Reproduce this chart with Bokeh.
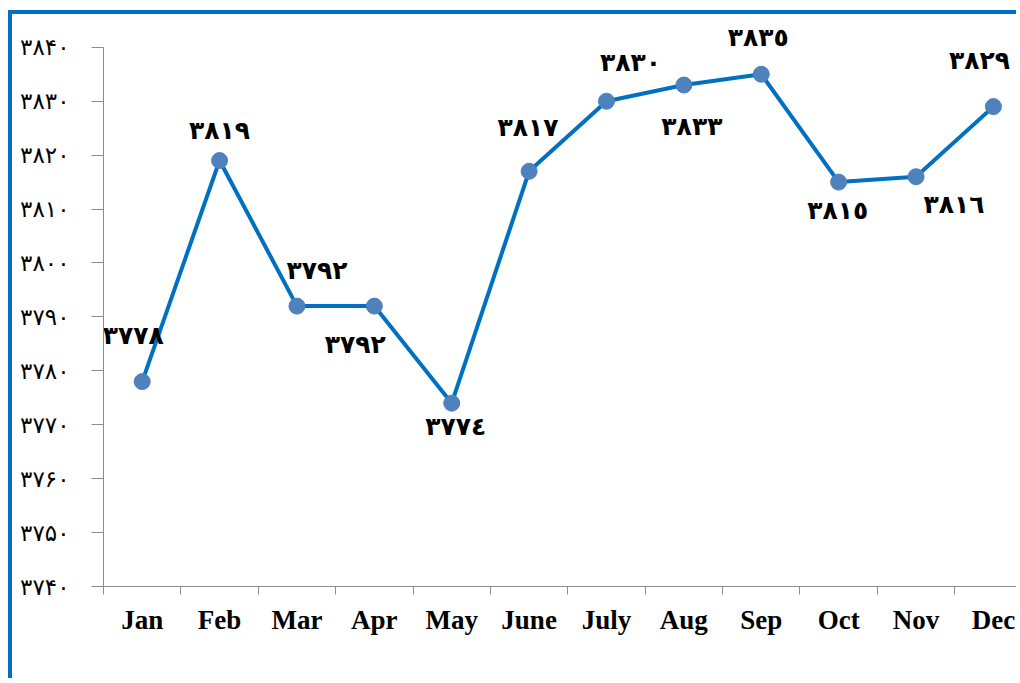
from bokeh.plotting import figure
from bokeh.models import ColumnDataSource, Range1d, FixedTicker, LinearAxis
from bokeh.core.properties import value
from bokeh.embed import file_html
from bokeh.resources import INLINE

# ---- data ----
months = ["Jan", "Feb", "Mar", "Apr", "May", "June", "July", "Aug", "Sep", "Oct", "Nov", "Dec"]
values = [3778, 3819, 3792, 3792, 3774, 3817, 3830, 3833, 3835, 3815, 3816, 3829]
y_ticks = [3740, 3750, 3760, 3770, 3780, 3790, 3800, 3810, 3820, 3830, 3840]

# label placement (style, screen px offsets relative to each point; +dy = down)
label_dx = [-9, 0, 20, -19, 4, -1, 24, 8, -3, -1, 38, -14]
label_dy = [-46, -30, -36, 38, 23, -44, -39, 41, -37, 28, 28, -46]

PERSIAN = "۰۱۲۳۴۵۶۷۸۹"
ARABIC = "٠١٢٣٤٥٦٧٨٩"


def to_digits(n, table):
    return "".join(table[int(c)] for c in str(n))


xs = list(range(len(months)))
labels = [to_digits(v, ARABIC) for v in values]

source = ColumnDataSource(dict(x=xs, y=values, label=labels, dx=label_dx, dy=label_dy))

# frame extends a little above the top tick so that labels above it are not clipped
p = figure(width=1008, height=668, output_backend="svg", toolbar_location=None,
           x_range=Range1d(-0.5, 11.35), y_range=Range1d(3740, 3844.6),
           x_axis_type=None, y_axis_type=None,
           min_border_left=91, min_border_right=0, min_border_top=8, min_border_bottom=96)
p.styles = {"border-left": "4px solid #0070C0", "border-top": "4px solid #0070C0",
            "margin-top": "10px", "margin-left": "8px"}
p.outline_line_color = None
p.grid.visible = False
p.background_fill_color = "white"
p.border_fill_color = "white"

# y axis
yaxis = LinearAxis(ticker=FixedTicker(ticks=y_ticks), bounds=(y_ticks[0], y_ticks[-1]))
yaxis.major_label_overrides = {t: to_digits(t, PERSIAN) for t in y_ticks}
yaxis.axis_line_color = "#8C8C8C"
yaxis.major_tick_line_color = "#8C8C8C"
yaxis.major_tick_out = 12
yaxis.major_tick_in = 0
yaxis.minor_tick_line_color = None
yaxis.major_label_standoff = 22
yaxis.major_label_text_font = "DejaVu Sans"
yaxis.major_label_text_font_size = "23px"
yaxis.major_label_text_color = "black"
p.add_layout(yaxis, "left")

# x axis: labels at category centres, ticks at boundaries
boundaries = [i - 0.5 for i in range(len(months) + 1)]
xaxis = LinearAxis(ticker=FixedTicker(ticks=xs, minor_ticks=boundaries))
xaxis.major_label_overrides = {i: m for i, m in enumerate(months)}
xaxis.axis_line_color = "#8C8C8C"
xaxis.major_tick_line_color = None
xaxis.minor_tick_line_color = "#8C8C8C"
xaxis.minor_tick_out = 8
xaxis.minor_tick_in = 0
xaxis.major_label_standoff = 10
xaxis.major_label_text_font = "Liberation Serif"
xaxis.major_label_text_font_style = "bold"
xaxis.major_label_text_font_size = "27px"
xaxis.major_label_text_color = "black"
p.add_layout(xaxis, "below")

p.line("x", "y", source=source, line_color="#0070C0", line_width=4)
p.scatter("x", "y", source=source, size=16, fill_color="#4F81BD", line_color="#4F81BD")

p.text("x", "y", text="label", source=source, x_offset="dx", y_offset="dy",
       text_align="center", text_baseline="middle",
       text_font=value("DejaVu Sans"), text_font_style="bold",
       text_font_size="25px", text_color="black")

open("out.html", "w").write(file_html(p, INLINE))
